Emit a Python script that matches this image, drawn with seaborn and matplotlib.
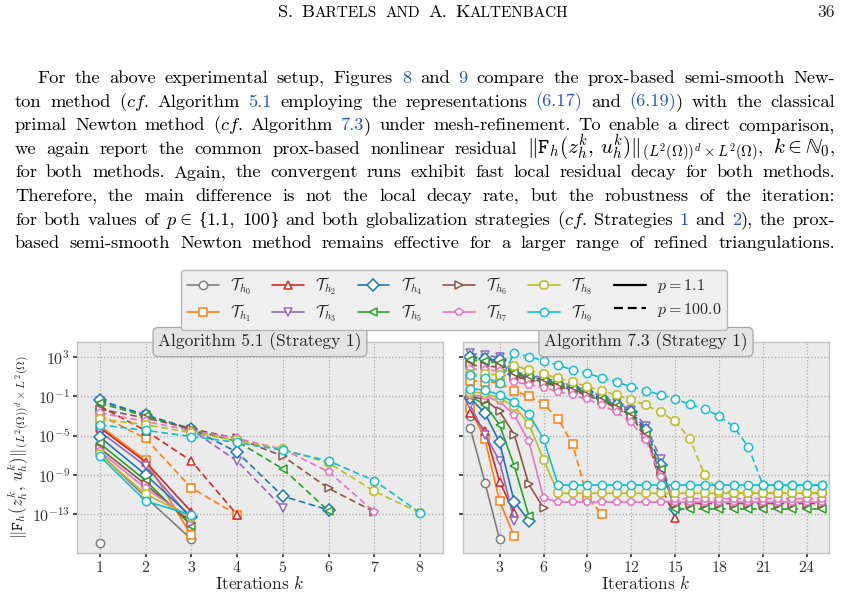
import numpy as np
import pandas as pd
import seaborn as sns
import matplotlib
matplotlib.use("Agg")
from matplotlib import pyplot as plt
from matplotlib.lines import Line2D
from matplotlib.ticker import FixedLocator, LogFormatterMathtext, NullLocator

# log10 of the residual per iteration k = 1, 2, ... (one list per mesh T_h0 .. T_h9)
alg51_p11 = [
    [-6.8, -11.3, -15.6],
    [-4.0, -7.5, -15.2],
    [-4.2, -7.7, -12.8],
    [-4.6, -8.1, -13.5],
    [-5.15, -9.0, -13.3],
    [-5.8, -9.6, -14.2],
    [-6.3, -10.0, -13.9],
    [-6.6, -10.4, -13.5],
    [-6.9, -11.0, -13.3],
    [-7.1, -11.7, -13.1],
]
alg51_p100 = [
    [-16.0],
    [-2.9, -5.3, -10.35, -13.1],
    [-2.0, -4.5, -7.6, -13.1],
    [-1.5, -2.9, -4.4, -7.6, -12.4],
    [-1.4, -2.9, -4.3, -6.7, -11.2, -12.6],
    [-1.7, -3.0, -4.4, -5.6, -8.4, -12.7],
    [-2.3, -3.2, -4.3, -5.3, -7.1, -10.4, -12.8],
    [-2.7, -3.55, -4.5, -5.3, -6.4, -8.7, -12.8],
    [-3.3, -3.9, -4.7, -5.5, -6.4, -7.8, -10.7, -12.9],
    [-3.9, -4.47, -5.1, -5.7, -6.5, -7.6, -9.6, -12.9],
]
alg73_p11 = [
    [-4.25, -9.8, -15.6],
    [-2.2, -5.4, -11.7, -15.3],
    [-2.7, -4.5, -9.7, -12.9],
    [-1.9, -4.9, -7.6, -13.7],
    [-1.2, -2.7, -5.7, -11.75, -13.7],
    [-1.0, -1.85, -3.9, -8.1, -13.2],
    [-0.95, -1.35, -2.5, -4.9, -10.0, -12.4],
    [-0.85, -1.0, -1.5, -2.9, -5.6, -11.35, -11.8, -11.8, -11.8, -11.8, -11.8, -11.8, -11.8,
     -11.8, -11.8, -11.8, -11.8, -11.8, -11.8, -11.8, -11.8, -11.8, -11.8, -11.8, -11.8],
    [-0.5, -0.7, -1.2, -2.0, -3.8, -7.45, -10.9, -10.9, -10.9, -10.9, -10.9, -10.9, -10.9,
     -10.9, -10.9, -10.9, -10.9, -10.9, -10.9, -10.9, -10.9, -10.9, -10.9, -10.9, -10.9],
    [-0.2, -0.35, -0.85, -1.6, -2.8, -5.35, -10.05, -10.05, -10.05, -10.05, -10.05, -10.05,
     -10.05, -10.05, -10.05, -10.05, -10.05, -10.05, -10.05, -10.05, -10.05, -10.05, -10.05,
     -10.05, -10.05],
]
alg73_p100 = [
    [-3.0],
    [0.6, 0.5, 0.4, -0.4, -1.0, -1.75, -3.3, -5.9, -11.4, -13.0],
    [2.9, 2.8, 2.5, 1.1, 0.8, 0.5, 0.1, -0.3, -0.8, -1.4, -2.1, -2.9, -4.6, -10.1, -13.4],
    [3.4, 3.2, 3.0, 1.5, 1.2, 0.9, 0.5, 0.1, -0.4, -1.0, -1.7, -2.4, -4.0, -7.4, -12.6],
    [3.0, 2.8, 2.7, 1.3, 1.0, 0.7, 0.3, -0.1, -0.6, -1.2, -1.9, -2.6, -4.4, -8.0, -12.5],
    [2.7, 2.6, 2.4, 1.4, 1.0, 0.6, 0.2, -0.2, -0.7, -1.3, -2.0, -2.9, -4.9, -8.4, -12.5,
     -12.5, -12.5, -12.5, -12.5, -12.5, -12.5, -12.5, -12.5, -12.5, -12.5],
    [2.2, 2.1, 2.0, 1.0, 0.7, 0.4, 0.0, -0.4, -0.9, -1.5, -2.2, -3.1, -5.1, -8.8, -12.0,
     -11.95, -11.95, -11.95, -11.95, -11.95, -11.95, -11.95, -11.95, -11.95, -11.95],
    [1.8, 1.7, 1.6, 0.5, 0.2, -0.1, -0.5, -0.9, -1.3, -1.9, -2.6, -3.65, -5.5, -9.2, -11.45,
     -11.45, -11.45, -11.45, -11.45, -11.45, -11.45, -11.45, -11.45, -11.45, -11.45],
    [1.3, 1.3, 1.2, 2.15, 1.7, 1.27, 0.86, 0.45, 0.0, -0.43, -0.9, -1.35, -1.9, -2.6, -3.55,
     -5.35, -9.0, -10.7, -10.85, -10.85, -10.85, -10.85, -10.85, -10.85, -10.85],
    [1.2, 0.9, 0.4, 3.45, 3.06, 2.65, 2.2, 1.7, 1.35, 0.9, 0.45, 0.0, -0.4, -0.84, -1.27,
     -1.8, -2.3, -3.0, -4.1, -6.2, -10.1, -10.1, -10.1, -10.1, -10.1],
]

mesh_labels = [r"$\mathcal{T}_{h_%d}$" % i for i in range(10)]
mesh_markers = ["o", "s", "^", "v", "D", "<", ">", "p", "8", "o"]
p_values = ["1.1", "100.0"]
titles = ["Algorithm 5.1 (Strategy 1)", "Algorithm 7.3 (Strategy 1)"]

sns.set_theme(style="darkgrid", rc={
    "axes.facecolor": "#ebebeb",
    "axes.edgecolor": "#c4c4c4",
    "axes.linewidth": 1.0,
    "grid.color": "#aaaaaa",
    "grid.linestyle": ":",
    "grid.linewidth": 0.9,
    "xtick.bottom": True,
    "ytick.left": True,
    "xtick.major.size": 3,
    "ytick.major.size": 3,
    "xtick.color": "#333333",
    "ytick.color": "#333333",
})
plt.rcParams["font.family"] = "serif"
plt.rcParams["font.serif"] = ["cmr10"]
plt.rcParams["mathtext.fontset"] = "cm"
plt.rcParams["axes.formatter.use_mathtext"] = True
plt.rcParams["axes.unicode_minus"] = False

colors = sns.color_palette("tab10")
mesh_colors = [colors[7], colors[1], colors[3], colors[4], colors[0],
               colors[2], colors[5], colors[6], colors[8], colors[9]]


def build_frame(p11, p100):
    rows = []
    for i in range(10):
        for p, series in zip(p_values, (p11[i], p100[i])):
            for k, v in enumerate(series, start=1):
                rows.append({"k": k, "res": 10.0 ** v, "mesh": mesh_labels[i],
                             "run": "%d|%s" % (i, p)})
    return pd.DataFrame(rows)


fig = plt.figure(figsize=(8.43, 6.08), dpi=100)
ax1 = fig.add_axes([0.0913, 0.0905, 0.4342, 0.347])
ax2 = fig.add_axes([0.5492, 0.0905, 0.4342, 0.347], sharey=ax1)

palette = dict(zip(mesh_labels, mesh_colors))
marker_map = {}
dash_map = {}
for i in range(10):
    marker_map["%d|1.1" % i] = mesh_markers[i]
    marker_map["%d|100.0" % i] = mesh_markers[i]
    dash_map["%d|1.1" % i] = ""
    dash_map["%d|100.0" % i] = (4, 2.2)

for ax, (p11, p100), title in zip((ax1, ax2), ((alg51_p11, alg51_p100), (alg73_p11, alg73_p100)), titles):
    df = build_frame(p11, p100)
    sns.lineplot(data=df, x="k", y="res", hue="mesh", style="run", palette=palette,
                 markers=marker_map, dashes=dash_map, legend=False, ax=ax,
                 estimator=None, sort=False, lw=1.2, ms=6)
    for line in ax.lines:
        line.set_markerfacecolor("white")
        line.set_markeredgecolor(line.get_color())
        line.set_markeredgewidth(1.1)
    ax.set_yscale("log")
    ax.set_xlabel("Iterations $k$", fontsize=12.5, labelpad=0)
    ax.set_ylabel("")
    ax.text(0.5, 1.0, title, transform=ax.transAxes, ha="center", va="center", fontsize=12.5,
            bbox=dict(boxstyle="round,pad=0.3", fc="#e4e4e4", ec="#a8a8a8", lw=0.9))
    ax.tick_params(labelsize=11.5, pad=2)
    for s in ax.spines.values():
        s.set_visible(True)

ax1.set_ylim(1e-17, 10 ** 4.56)
ax1.yaxis.set_major_locator(FixedLocator([1e3, 1e-1, 1e-5, 1e-9, 1e-13]))
ax1.yaxis.set_major_formatter(LogFormatterMathtext())
ax1.yaxis.set_minor_locator(NullLocator())
ax1.set_xlim(0.5, 8.5)
ax1.set_xticks(range(1, 9))
ax2.set_xlim(0.5, 25.5)
ax2.set_xticks(range(3, 25, 3))
ax2.tick_params(labelleft=False)
ax1.set_ylabel(r"$\|\mathtt{F}_h(z_h^k,\,u_h^k)\|_{(L^2(\Omega))^d\times L^2(\Omega)}$",
               fontsize=12, labelpad=1)

handles = [Line2D([], [], color=c, marker=m, mfc="white", mec=c, mew=1.1, ms=6, lw=1.2)
           for c, m in zip(mesh_colors, mesh_markers)]
handles.append(Line2D([], [], color="black", lw=1.6))
handles.append(Line2D([], [], color="black", lw=1.6, dashes=(4, 2.2)))
labels = mesh_labels + [r"$p = 1.1$", r"$p = 100.0$"]
fig.legend(handles, labels, ncol=6, loc="center", bbox_to_anchor=(0.5386, 0.507),
           fontsize=11.5, frameon=True, fancybox=True, facecolor="#efefef", edgecolor="#b8b8b8",
           handlelength=2.0, columnspacing=1.3, handletextpad=0.7, borderpad=0.35,
           labelspacing=0.35, framealpha=1.0)

# page text above the figure
renderer = fig.canvas.get_renderer()
W, H = fig.bbox.width, fig.bbox.height
link = "#2b52c8"


def draw_line(words, base_y, x_left, x_right=None, gap=6.0, center=None):
    arts, widths = [], []
    for word in words:
        parts, ww = [], 0.0
        for s, size, col, fam in word:
            t = fig.text(0, 1 - base_y / H, s, fontsize=size, color=col, va="baseline")
            if fam:
                t.set_family(fam)
            parts.append((t, ww))
            ww += t.get_window_extent(renderer).width
        arts.append(parts)
        widths.append(ww)
    if x_right is not None and len(words) > 1:
        gap = (x_right - x_left - sum(widths)) / (len(words) - 1)
    if center is not None:
        x_left = center - (sum(widths) + gap * (len(words) - 1)) / 2
    x = x_left
    for parts, ww in zip(arts, widths):
        for t, off in parts:
            t.set_x((x + off) / W)
        x += ww + gap


def parse(line, size, math_size):
    # '§' toggles link colour, '¦' splits a word into pieces,
    # a leading '~' marks a brace drawn in Liberation Serif
    out = []
    for w in line.split(" "):
        word = []
        for j, s in enumerate(w.split("§")):
            if not s:
                continue
            col = link if j % 2 else "black"
            for piece in s.split("¦"):
                if not piece:
                    continue
                if piece.startswith("~"):
                    word.append((piece[1:], size * 0.95, col, "Liberation Serif"))
                elif piece.startswith("$"):
                    word.append((piece, math_size, col, None))
                else:
                    word.append((piece, size, col, None))
        out.append(word)
    return out


big, small = 13.2, 11.0
header = [[("S.", big, "black", None)],
          [("B", big, "black", None), ("ARTELS", small, "black", None)],
          [("AND", small, "black", None)], [("A.", big, "black", None)],
          [("K", big, "black", None), ("ALTENBACH", small, "black", None)]]
draw_line(header, 17, 0, gap=8.5, center=423)
fig.text(835 / W, 1 - 17 / H, "36", fontsize=12.5, ha="right", va="baseline")

cf = r"$(\mathit{cf.}$"
paragraph = [
    "For the above experimental setup, Figures §8§ and §9§ compare the prox-based semi-smooth New-",
    "ton method " + cf + " Algorithm §5.1§ employing the representations §(6.17)§ and §(6.19)§) with the classical",
    "primal Newton method " + cf + " Algorithm §7.3§) under mesh-refinement. To enable a direct comparison,",
    r"we again report the common prox-based nonlinear residual $\|\mathtt{F}_h(z_h^k,\,u_h^k)\|_{(L^2(\Omega))^d\times{}L^2(\Omega)}$¦, $k\in\mathbb{N}_0$¦,",
    "for both methods. Again, the convergent runs exhibit fast local residual decay for both methods.",
    "Therefore, the main difference is not the local decay rate, but the robustness of the iteration:",
    r"for both values of $p\in$ ~{¦1.1, 100¦~} and both globalization strategies " + cf + " Strategies §1§ and §2§), the prox-",
    "based semi-smooth Newton method remains effective for a larger range of refined triangulations.",
]
for n, line in enumerate(paragraph):
    draw_line(parse(line, 13.3, 15.2 if n == 3 else 13.3), 83 + n * 23.6, 37 if n == 0 else 15, 835)

fig.savefig("out.png", dpi=100)
